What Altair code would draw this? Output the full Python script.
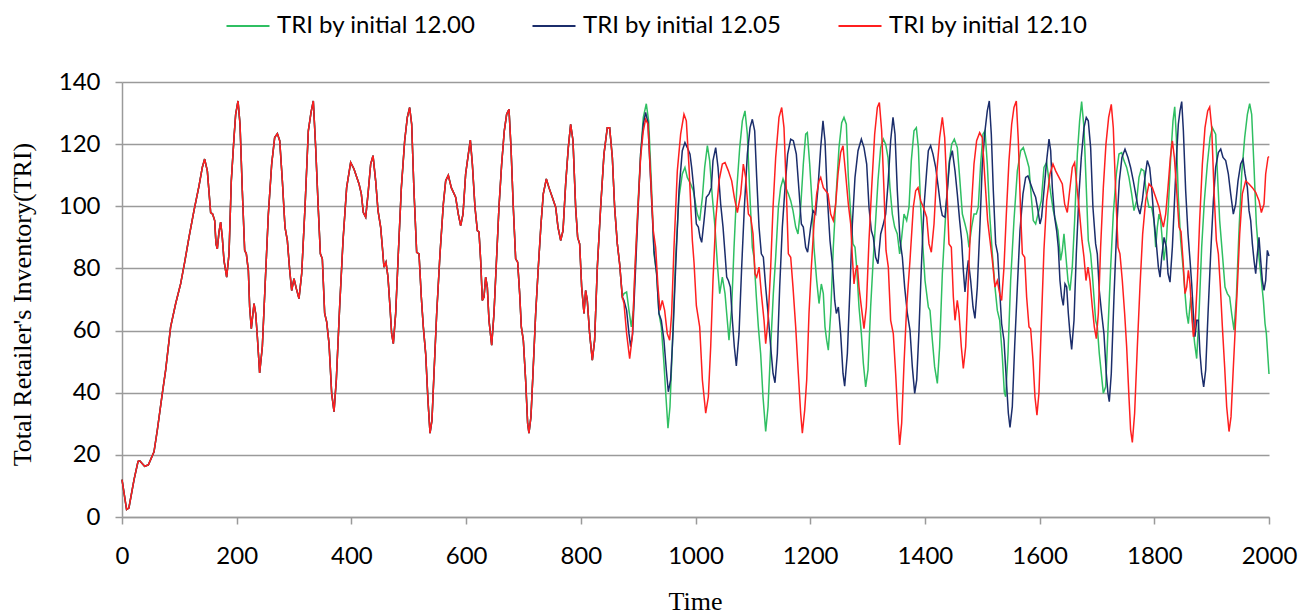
import altair as alt
import pandas as pd

# ---- data (time, TRI) ----
shared_points = [
    (0, 12), (8, 2.4), (12, 2.9), (21, 12), (28, 17.9), (31, 18.1), (39.5, 16.3), (46, 16.8),
    (55.8, 21), (61.6, 28), (70.3, 39.8), (76.1, 47.3), (84.8, 61.2), (93.6, 68.7), (102.3, 75.1),
    (109.3, 82), (116.8, 90), (125.5, 98.6), (134.3, 106.6), (140, 112.5), (144.1, 115.2),
    (148.8, 111.4), (154.6, 98), (158, 97.5), (161.6, 95.4), (163.9, 87.9), (166.2, 86.3),
    (169.1, 91.7), (172, 94.9), (174.9, 90), (177.8, 82.6), (182.5, 77.2), (186.6, 84.7),
    (190.6, 108.2), (195.3, 122.1), (198.2, 129.6), (202.3, 133.9), (205.8, 126.4), (209.8, 105),
    (213.9, 85.8), (216.8, 84.7), (220.3, 79.4), (222.6, 67.6), (225.5, 60.6), (230.2, 68.7),
    (233.1, 65.5), (236, 58), (240, 46.4), (244.7, 54.8), (249.4, 74), (255.2, 97.5), (261, 113.6),
    (266.2, 122.1), (270.9, 123.4), (275, 121.1), (279.6, 108.2), (284.2, 93.3), (288.3, 89),
    (292.4, 79.4), (295.9, 72.9), (299.9, 76.7), (304, 73.5), (308.6, 70.3), (313.3, 78.3),
    (319.1, 99.7), (324.9, 124.3), (329.6, 130.2), (333.6, 133.9), (337.7, 118.9), (342.4, 98.6),
    (345.9, 84.7), (349.3, 83.1), (353.4, 65.5), (356.9, 62.8), (361, 55.8), (365.6, 39.8),
    (369.7, 33.9), (373.7, 44.1), (379.5, 67.6), (385.4, 89), (391.7, 106), (398.7, 114.1),
    (404.5, 112), (413.3, 107.2), (417.3, 104), (420.8, 98), (424.9, 96.5), (429, 104),
    (433.6, 113.6), (437.7, 116.3), (442.3, 108.2), (446.4, 98.6), (451, 93.3), (454, 86.8),
    (456.8, 80.4), (460.3, 82), (463.8, 77.2), (467.3, 67.6), (470.2, 59), (473.1, 55.8),
    (477.2, 65.5), (481.8, 84.7), (487.1, 106), (492.9, 121.1), (497.5, 128.6), (501.6, 131.8),
    (505.1, 126.4), (509.1, 105), (513.8, 85.2), (517.9, 84.7), (521.9, 70.8), (525.4, 61.2),
    (529.5, 52.6), (533.5, 37.6), (537.1, 27), (540.5, 31.2), (544, 46.2), (548.7, 65.5),
    (554.5, 84.7), (560.3, 100.7), (564.4, 108.2), (569, 110), (574.2, 106), (581.8, 102.9),
    (586.4, 97.5), (590.5, 93.8), (594.6, 97.5), (599.2, 110.4), (603.9, 116.8), (607.4, 121.3),
    (610.9, 113.6), (615.5, 99.7), (619.6, 92.2), (622.5, 91.7), (625.4, 82.6), (628.3, 69.7),
    (631.2, 70.8), (634.1, 77.2), (637, 74), (639.9, 63.3), (644.6, 55.3), (648.6, 65.5),
    (652.7, 81.5), (657.3, 99.7), (662, 113.6), (666.6, 124.3), (670.7, 129.6), (674.8, 131.2),
    (678.3, 118.9), (682.3, 99.7), (686.4, 83.1), (689.9, 82), (693.4, 71.9), (696.3, 61.2),
    (699.8, 56.9), (703.8, 44.1), (707.3, 30.2), (709.6, 27), (713.1, 32.3), (716.6, 46.2),
    (721.3, 65.5), (725.9, 80.4), (730.6, 94.3), (734.6, 104), (739.9, 108.8), (744.5, 106),
    (750.3, 102.9), (756.2, 99.7), (760.2, 93.3), (764.9, 89), (769, 92.2), (773.6, 107.2),
    (778.2, 118.9), (782.3, 126.4), (786.4, 121.1), (791, 99.7), (794.5, 90), (798, 87.9),
    (801.5, 74), (805.6, 65.5), (808.4, 72.9), (811.3, 69.7), (815.4, 59), (820.1, 50.5),
    (824.1, 56.9), (828.8, 80.4), (834.6, 99.7), (840.4, 116.8), (846.2, 125.3), (850.3, 125.3),
    (855, 115.7), (859, 99.7), (863.7, 87.9), (867.7, 81.5),
]

green_points = [
    (872.4, 70.8), (875.3, 71.9), (879.9, 72.4), (884, 66.5), (888.1, 61.2), (891.6, 66.5),
    (895.6, 83.6), (900.3, 102.9), (904.3, 116.8), (909, 128.6), (914.2, 133), (918.3, 127.5),
    (922.9, 108.2), (927.6, 84.7), (932.2, 78.3), (936.3, 65.5), (940.4, 61.2), (945, 49.4),
    (948.5, 38.7), (952, 28.6), (955.5, 35.5), (959.6, 54.8), (965.4, 83.6), (971.2, 102.9),
    (977, 110.4), (981.6, 112.5), (985.7, 109.3), (991.5, 107.2), (996.2, 105), (1000.2, 100.7),
    (1003.2, 97.5), (1007.3, 95.4), (1012, 102.9), (1016, 112.5), (1020.7, 119.5), (1024.7, 114.7),
    (1029.4, 102.9), (1034, 93.3), (1038.1, 81.5), (1042.2, 71.9), (1046.8, 77.2), (1051.5, 71.9),
    (1054.4, 65.5), (1058.4, 56.9), (1063.1, 67.6), (1067.2, 86.8), (1071.8, 105), (1077.1, 118.9),
    (1081.7, 127.5), (1086.3, 130.7), (1090.4, 123.2), (1094.5, 105), (1099.1, 86.8), (1102, 83.6),
    (1106.1, 70.8), (1109.6, 61.2), (1113.6, 52.6), (1117.7, 38.7), (1122.4, 27.5), (1126.5, 35.5),
    (1131.1, 54.8), (1135.7, 71.9), (1139.8, 83.6), (1144.5, 99.7), (1148.5, 106), (1152.6, 108.8),
    (1157.3, 106), (1161.9, 104), (1166, 101.8), (1170, 98.6), (1174.7, 93.3), (1178.7, 91.1),
    (1183.4, 99.7), (1188, 113.6), (1192.1, 123.2), (1195, 123.7), (1199.1, 113.6), (1203.7, 99.7),
    (1206.6, 86.8), (1211.3, 76.1), (1215.4, 68.7), (1219.4, 75), (1222.9, 71.9), (1225.8, 61.2),
    (1228.7, 56.9), (1231.6, 53.7), (1235.7, 65.5), (1240.3, 86.8), (1245.6, 105), (1250.2, 118.9),
    (1254.9, 126.9), (1258.9, 128.6), (1263, 126.4), (1266.5, 109.3), (1270.6, 97.5), (1274.6, 87.9),
    (1278.1, 86.8), (1281, 80.4), (1285.1, 67.6), (1289.2, 59), (1292.7, 49.4), (1296.7, 41.9),
    (1300.8, 47.3), (1305.4, 67.6), (1310.1, 83.6), (1314.1, 95.4), (1318.2, 108.2), (1322.9, 118.9),
    (1327.5, 121.6), (1331.6, 120), (1335.7, 115.7), (1339.1, 106), (1343.2, 97.5), (1347.3, 93.3),
    (1351.9, 91.1), (1356, 84.7), (1359.5, 90), (1363.6, 97.5), (1368.2, 95.4), (1372.3, 99.7),
    (1376.3, 114.7), (1381, 124.3), (1385.1, 125.3), (1388.6, 118.9), (1392.6, 99.7), (1395.5, 90),
    (1400.2, 76.1), (1406, 67.6), (1408.9, 66.5), (1413, 56.9), (1417, 48.3), (1421.7, 43),
    (1425.7, 54.8), (1430.4, 78.3), (1436.2, 97.5), (1442, 113.6), (1446.7, 120), (1451.3, 121.6),
    (1456.5, 118.9), (1460.6, 109.3), (1465.3, 97.5), (1469.9, 94.3), (1474, 91.1), (1476.9, 86.8),
    (1481.5, 93.3), (1485.6, 97.5), (1489.7, 97.5), (1493.1, 99.7), (1497.2, 113.6), (1501.3, 123.2),
    (1504.8, 124.3), (1508.8, 113.6), (1512.9, 97.5), (1517.6, 84.7), (1522.2, 74), (1526.3, 66.5),
    (1530.4, 63.3), (1535, 51.6), (1538.5, 40.1), (1540.8, 38.7), (1544.9, 52.6), (1549.5, 76.1),
    (1555.3, 95.4), (1561.2, 111.4), (1567, 117.9), (1571.6, 118.9), (1576.8, 115.7), (1581.5, 112.5),
    (1585.6, 102.9), (1589, 95.4), (1593.1, 94.3), (1597.2, 97.5), (1603, 101.8), (1607.6, 112.5),
    (1612.3, 114.1), (1616.4, 108.2), (1620.4, 102.9), (1623.9, 98.6), (1628, 95.4), (1632, 92.2),
    (1636.7, 82.6), (1639.6, 85.8), (1642.5, 91.1), (1646, 83.6), (1649.5, 76.1), (1653, 72.9),
    (1657, 80.4), (1661.1, 95.4), (1665.8, 116.8), (1669.8, 127.5), (1673.3, 133.7), (1677.4, 125.3),
    (1681.4, 106), (1684.9, 89), (1689, 84.7), (1691.9, 78.3), (1694.8, 70.8), (1697.7, 63.3),
    (1700.6, 61.2), (1704.1, 52.6), (1707.6, 46.2), (1711.1, 39.8), (1715.2, 41.9), (1719.2, 60.1),
    (1723.9, 80.4), (1728.5, 97.5), (1733.8, 110.4), (1738.4, 116.8), (1743.1, 117.3), (1747.1, 114.7),
    (1751.8, 112.5), (1755.8, 109.3), (1760.5, 104), (1764.6, 98.6), (1769.2, 101.8), (1773.3, 109.3),
    (1777.3, 112), (1782, 111.4), (1786.1, 104), (1790.7, 99.7), (1795.4, 99.7), (1799.5, 95.4),
    (1802.4, 86.8), (1805.3, 93.3), (1808.2, 97.5), (1811.1, 95.4), (1814, 89), (1816.9, 82.6),
    (1821, 89), (1824.5, 99.7), (1828.6, 115.7), (1832.6, 127.5), (1835.6, 132), (1838.5, 122.1),
    (1841.9, 102.9), (1846, 89), (1850.1, 80.4), (1853.6, 71.9), (1856.5, 65.5), (1859.4, 62.2),
    (1863.5, 70.8), (1866.4, 63.3), (1870.4, 55.8), (1873.9, 51), (1878, 65.5), (1882.6, 86.8),
    (1887.3, 101.8), (1892.5, 113.6), (1897.2, 122.1), (1901.2, 125.3), (1907, 123.2), (1909.9, 111.4),
    (1914, 95.4), (1918.7, 84.7), (1923.3, 74), (1927.4, 71.9), (1931.4, 70.8), (1934.9, 65.5),
    (1939, 60.1), (1943.1, 70.8), (1947.7, 92.2), (1952.4, 110.4), (1957.6, 122.1), (1962.3, 129.6),
    (1966.3, 133), (1969.8, 129.6), (1973.9, 112.5), (1977.9, 94.3), (1982.6, 83.6), (1986.7, 76.1),
    (1990.2, 69.7), (1993.1, 62.2), (1995.4, 59), (2000, 46),
]

blue_points = [
    (872.4, 70.8), (875.3, 69.7), (879.9, 66.5), (884, 59), (886.9, 54.8), (890.4, 59),
    (895.6, 80.4), (900.3, 100.7), (904.3, 116.8), (909, 126.4), (913, 130.2), (917.1, 126.9),
    (921.8, 108.2), (927.6, 85.8), (932.2, 78.3), (936.3, 65.5), (940.4, 63.3), (945, 56.9),
    (949.1, 47.3), (952.6, 40.3), (956.6, 44.1), (960.7, 59), (965.4, 80.4), (971.2, 105),
    (977, 117.9), (981.6, 120.5), (985.7, 118.9), (990.4, 116.8), (993.3, 112.5), (997.4, 105),
    (1001.5, 94.3), (1005, 93.3), (1007.9, 90), (1010.8, 88.4), (1014.9, 95.4), (1018.9, 102.9),
    (1023.6, 104), (1027.6, 106), (1030.5, 114.7), (1035.2, 118.9), (1039.3, 112.5), (1043.9, 100.7),
    (1048, 93.3), (1051.5, 84.7), (1054.4, 77.2), (1057.3, 76.1), (1060.8, 74), (1064.3, 63.3),
    (1067.7, 54.8), (1071.2, 48.6), (1075.9, 59), (1080.5, 80.4), (1085.2, 99.7), (1090.4, 116.8),
    (1095.1, 125.3), (1099.1, 128), (1103.2, 124.3), (1106.7, 109.3), (1110.8, 93.3), (1114.8, 84.7),
    (1118.3, 83.6), (1122.4, 74), (1126.5, 65.5), (1131.1, 54.8), (1135.2, 46.2), (1138.6, 43.2),
    (1142.7, 52.6), (1146.8, 74), (1151.4, 93.3), (1156.1, 106), (1160.7, 116.8), (1166, 121.6),
    (1170.6, 121.1), (1175.8, 116.8), (1180.5, 105), (1184.6, 94.3), (1188, 93.3), (1192.1, 86.8),
    (1195.5, 85.2), (1200.8, 93.3), (1204.9, 98.6), (1209.5, 97.5), (1213.6, 106), (1218.3, 118.9),
    (1222.3, 127.5), (1225.8, 121.1), (1229.9, 102.9), (1234.5, 89), (1238.6, 81.5), (1242.7, 69.7),
    (1245.6, 65.5), (1249.1, 67.6), (1253.1, 59), (1257.2, 46.2), (1260.1, 42.1), (1264.8, 52.6),
    (1269.4, 74), (1273.5, 94.3), (1278.1, 109.3), (1283.4, 117.9), (1289.2, 121.6), (1293.8, 118.9),
    (1298.5, 113.6), (1302.5, 99.7), (1306.6, 92.2), (1310.1, 90), (1314.1, 83.6), (1318.2, 81.5),
    (1322.9, 91.1), (1326.9, 93.8), (1331.6, 97.5), (1335.7, 107.2), (1340.3, 121.1), (1344.4, 128.6),
    (1347.9, 123.2), (1351.9, 105), (1356.6, 89), (1360.7, 83.6), (1364.7, 74), (1369.4, 65.5),
    (1374, 60.1), (1378.1, 48.3), (1382.2, 39.8), (1385.7, 44.1), (1389.7, 60.1), (1393.8, 80.4),
    (1398.4, 99.7), (1403.1, 111.4), (1406, 117.9), (1410, 119.5), (1414.1, 116.8), (1418.8, 112.5),
    (1423.4, 106), (1427.5, 99.7), (1430.4, 97), (1435, 96.5), (1439.1, 105), (1443.2, 114.7),
    (1447.8, 117.9), (1452.5, 111.4), (1456.5, 104), (1460.6, 95.4), (1464.1, 89), (1467, 79.4),
    (1469.9, 72.4), (1472.8, 78.3), (1475.7, 82.6), (1479.8, 76.1), (1483.9, 67.6), (1487.3, 63.9),
    (1491.4, 74), (1496.1, 94.3), (1500.1, 113.6), (1504.8, 124.3), (1508.8, 130.7), (1512.3, 133.9),
    (1515.8, 123.2), (1519.3, 105), (1523.4, 87.9), (1526.9, 84.7), (1530.4, 72.9), (1533.8, 62.2),
    (1537.9, 56.9), (1542, 44.1), (1545.5, 33.4), (1548.4, 28.8), (1552.4, 35.5), (1556.5, 54.8),
    (1561.2, 74), (1565.8, 92.2), (1571, 104), (1575.7, 109.3), (1579.7, 109.8), (1584.4, 107.2),
    (1588.5, 105), (1593.1, 102.9), (1597.2, 98.6), (1600.7, 94.3), (1603.5, 96.5), (1607.6, 105),
    (1612.3, 114.7), (1616.4, 121.6), (1619.3, 117.9), (1622.2, 106), (1626.2, 96.5), (1629.7, 92.2),
    (1632.6, 86.8), (1635.5, 76.1), (1638.4, 70.8), (1641.3, 68.1), (1644.3, 75), (1647.2, 74),
    (1650.1, 65.5), (1653, 59), (1655.9, 53.9), (1660, 63.3), (1664, 84.7), (1668.7, 104),
    (1672.7, 115.7), (1677.4, 125.3), (1681.4, 128.6), (1684.9, 127.5), (1689, 118.9), (1693, 99.7),
    (1697.7, 87.9), (1700.6, 84.7), (1704.1, 72.9), (1708.2, 65.5), (1712.2, 59), (1716.3, 46.2),
    (1719.2, 39.8), (1721.5, 37.1), (1725, 46.2), (1729.7, 70.8), (1734.3, 92.2), (1739, 108.2),
    (1743.6, 115.7), (1748.9, 118.4), (1754.1, 115.7), (1758.7, 112.5), (1763.4, 108.2), (1767.5, 104),
    (1771.5, 99.7), (1775, 97.5), (1779.1, 101.8), (1783.7, 109.3), (1787.8, 114.7), (1791.9, 112.5),
    (1795.4, 106), (1799.5, 95.4), (1803.6, 87.9), (1807.1, 80.4), (1810, 77.2), (1812.9, 83.6),
    (1817, 90), (1821, 86.8), (1823.9, 78.3), (1827.4, 75.6), (1831.5, 86.8), (1835.5, 102.9),
    (1839, 116.8), (1841.9, 126.4), (1844.8, 130.7), (1847.8, 133.7), (1850.7, 124.3), (1854.7, 105),
    (1858.8, 91.1), (1862.3, 82.6), (1865.2, 75), (1868.1, 65.5), (1871, 58), (1873.9, 63.3),
    (1876.8, 63.3), (1879.7, 52.6), (1882.6, 46.2), (1886.1, 41.9), (1889.6, 47.3), (1893.7, 65.5),
    (1898.3, 84.7), (1903, 101.8), (1907, 112.5), (1911.7, 117.3), (1915.8, 118.4), (1919.8, 115.7),
    (1924.5, 114.7), (1929.1, 110.4), (1933.2, 104), (1937.8, 97.5), (1941.9, 100.7), (1946, 108.2),
    (1950.6, 113.6), (1954.7, 115.2), (1958.2, 110.4), (1962.3, 106), (1965.2, 98.6), (1968.1, 95.4),
    (1971, 87.9), (1973.9, 82.6), (1976.8, 78.3), (1979.7, 84.7), (1982.6, 90), (1985.5, 82.6),
    (1988.4, 76.1), (1991.3, 72.9), (1994.2, 76.1), (1997.1, 85.8), (2000, 84),
]

red_points = [
    (872.4, 70.8), (875.3, 68.7), (879.9, 59), (885.2, 51), (889.8, 58), (894.5, 80.4),
    (899.7, 99.7), (904.3, 115.7), (909, 124.3), (913, 128), (917.1, 126.4), (921.8, 109.3),
    (926.4, 92.2), (930.5, 86.8), (934.6, 74), (938.1, 66.5), (942.1, 69.7), (946.2, 66.5),
    (950.8, 59), (954.9, 56.9), (958.4, 65.5), (962.5, 86.8), (968.3, 111.4), (974.1, 123.2),
    (979.9, 129.6), (984, 127.5), (988.6, 113), (994.5, 89), (997.4, 82), (1001.5, 68),
    (1007.3, 61.2), (1012, 44.1), (1017.8, 33.4), (1022.4, 38.7), (1026.5, 54.8), (1030.5, 76.1),
    (1035.2, 95.4), (1041, 108.2), (1046.8, 113.6), (1051.5, 114.1), (1057.3, 111.4), (1063.1, 108.2),
    (1067.7, 102.9), (1073, 98), (1078.8, 104), (1083.4, 113.6), (1087.5, 109.3), (1092.2, 97.5),
    (1096.2, 96.5), (1100.3, 91.1), (1103.8, 78.3), (1106.7, 77.2), (1110.8, 80.4), (1114.8, 71.9),
    (1119.5, 63.3), (1122.4, 55.8), (1126.5, 63.3), (1131.1, 80.4), (1135.2, 99.7), (1139.8, 115.7),
    (1145.6, 128.6), (1150.3, 131.8), (1154.3, 125.3), (1158.4, 105), (1161.9, 84.7), (1166, 83.6),
    (1170, 74), (1174.7, 61.2), (1179.3, 46.2), (1183.4, 33.4), (1186.3, 27), (1190.4, 34.4),
    (1193.9, 44.1), (1197.9, 65.5), (1202, 80.4), (1206.6, 94.3), (1211.3, 104), (1215.4, 108.2),
    (1218.3, 109.3), (1222.9, 106), (1227, 105), (1231, 104), (1235.7, 97.5), (1240.3, 95.4),
    (1244.4, 100.7), (1248.5, 110.4), (1253.1, 117.3), (1257.2, 119.5), (1261.8, 110.4), (1266.5, 100.7),
    (1270.6, 94.3), (1273.5, 83.6), (1276.4, 75), (1279.3, 79.4), (1282.2, 81), (1285.1, 74),
    (1289.2, 67.6), (1293.8, 60.6), (1297.9, 67.6), (1302.5, 89), (1307.2, 106), (1312.4, 123.2),
    (1317.1, 131.8), (1320.6, 133.4), (1324.6, 124.3), (1328.7, 105), (1332.2, 85.8), (1336.2, 80.4),
    (1340.3, 63.3), (1344.9, 59), (1349, 46.2), (1353.1, 31.2), (1356, 23.2), (1359.5, 30.2),
    (1363.6, 49.4), (1368.2, 67.6), (1374, 82.6), (1379.8, 99.7), (1383.9, 105), (1388, 106),
    (1392.6, 101.8), (1397.3, 99.7), (1403.1, 96.5), (1407.1, 87.9), (1411.2, 85.2), (1415.9, 94.3),
    (1420.5, 110.4), (1425.7, 122.1), (1430.4, 128.6), (1434.5, 122.1), (1438.5, 105), (1442, 87.9),
    (1446.1, 86.8), (1449.6, 70.8), (1452.5, 63.3), (1456.5, 69.7), (1459.5, 65.5), (1463.5, 54.8),
    (1467, 47.8), (1471.1, 54.8), (1475.7, 76.1), (1480.4, 97.5), (1485.6, 113.6), (1490.2, 121.1),
    (1495.5, 123.7), (1500.1, 122.1), (1504.8, 108.2), (1509.4, 95.4), (1513.5, 89), (1517.6, 82.6),
    (1522.2, 74), (1526.3, 76.1), (1530.4, 71.9), (1533.8, 69.7), (1537.9, 80.4), (1542, 97.5),
    (1546.6, 114.7), (1551.3, 126.4), (1555.3, 131.8), (1559.4, 133.9), (1562.9, 121.1), (1567, 97.5),
    (1569.9, 84.7), (1574, 83.6), (1577.4, 70.8), (1581.5, 61.2), (1584.4, 60.6), (1588.5, 50.5),
    (1591.9, 38.7), (1595.4, 32.8), (1598.9, 40), (1603, 62), (1607.6, 86), (1612.3, 101.8),
    (1618.1, 110.4), (1623.3, 113.6), (1628, 111.4), (1633.8, 109.3), (1639.6, 107.2), (1643.7, 100.7),
    (1648.3, 98), (1652.4, 105), (1657, 112.5), (1661.1, 114.1), (1665.8, 105), (1669.8, 97.5),
    (1673.9, 89), (1677.4, 83.6), (1680.9, 76.1), (1684.4, 80.4), (1687.8, 76.1), (1691.9, 67.6),
    (1695.4, 61.2), (1698.9, 57.4), (1702.4, 65.5), (1706.4, 86.8), (1711.1, 106), (1715.7, 120),
    (1720.4, 128.6), (1725, 132.8), (1728.5, 125.3), (1732.6, 105), (1736.7, 86.8), (1740.1, 84.7),
    (1744.2, 76.1), (1748.3, 65.5), (1751.8, 54.8), (1755.8, 38.7), (1758.7, 28), (1761.7, 24),
    (1765.7, 33.4), (1770.4, 54.8), (1775, 74), (1779.7, 91.1), (1784.9, 101.8), (1790.7, 107.2),
    (1796.6, 106), (1802.4, 102.9), (1808.2, 99.7), (1812.9, 95.4), (1815.8, 93.3), (1819.9, 97.5),
    (1823.9, 106), (1828, 115.7), (1831.5, 121.1), (1835, 115.7), (1839, 105), (1843.1, 93.3),
    (1846.6, 91.8), (1850.1, 82.6), (1853.6, 71.9), (1856.5, 74), (1859.4, 79.4), (1862.3, 75),
    (1865.2, 65.5), (1868.1, 58), (1871, 61.2), (1875.1, 76.1), (1879.1, 95.4), (1883.8, 113.6),
    (1888.4, 125.3), (1893.1, 130.7), (1896.6, 132), (1900.1, 125.3), (1904.1, 105), (1908.2, 89),
    (1911.7, 84.7), (1915.2, 74), (1918.7, 61.2), (1922.7, 48.3), (1926.2, 35.5), (1930.3, 27.5),
    (1933.8, 32.3), (1937.3, 46.2), (1940.7, 59), (1944.8, 74), (1948.9, 91.1), (1953.5, 104),
    (1959.3, 108.2), (1965.2, 107.2), (1971, 106), (1976.8, 104.5), (1982.6, 101.8), (1986.7, 98),
    (1991.3, 100.7), (1994.2, 110.4), (1998.3, 115.7), (2000, 116),
]

series_names = ["TRI by initial 12.00", "TRI by initial 12.05", "TRI by initial 12.10"]
series_colors = ["#2fbf62", "#1b2d6b", "#ff1f1f"]
x_ticks = [0, 200, 400, 600, 800, 1000, 1200, 1400, 1600, 1800, 2000]
y_ticks = [0, 20, 40, 60, 80, 100, 120, 140]

rows = []
for name, own in zip(series_names, [green_points, blue_points, red_points]):
    for t, v in shared_points + own:
        rows.append({"Time": t, "TRI": v, "series": name})
df = pd.DataFrame(rows)

SANS = "Lato"
SERIF = "Liberation Serif"

chart = alt.Chart(df).mark_line(strokeWidth=1.5).encode(
    x=alt.X("Time:Q",
            scale=alt.Scale(domain=[0, 2000], nice=False, zero=False),
            axis=alt.Axis(values=x_ticks, grid=False, title="Time", format="d",
                          titleFont=SERIF, titleFontSize=26, titleFontWeight="normal",
                          titleColor="black", titleX=573, titleY=84,
                          titleBaseline="middle", titleAlign="center",
                          labelFont=SANS, labelFontSize=24, labelColor="black",
                          labelPadding=20, tickSize=7, labelFlush=False)),
    y=alt.Y("TRI:Q",
            scale=alt.Scale(domain=[0, 140], nice=False),
            axis=alt.Axis(values=y_ticks, grid=True,
                          title="Total Retailer's Inventory(TRI)",
                          titleFont=SERIF, titleFontSize=26, titleFontWeight="normal",
                          titleColor="black", titleAngle=-90, titleX=-100, titleY=222,
                          titleAlign="center", titleBaseline="middle",
                          labelFont=SANS, labelFontSize=24, labelColor="black",
                          labelPadding=15, tickSize=7)),
    color=alt.Color("series:N",
                    scale=alt.Scale(domain=series_names, range=series_colors),
                    legend=alt.Legend(title=None, orient="none", direction="horizontal",
                                      legendX=103, legendY=-79, symbolType="stroke",
                                      symbolSize=1850, symbolStrokeWidth=2,
                                      labelFont=SANS, labelFontSize=24, labelColor="black",
                                      labelOffset=6, columnPadding=52, padding=0,
                                      labelLimit=400)),
).properties(
    width=1147, height=435,
    autosize=alt.AutoSizeParams(type="none"),
    padding={"left": 114, "top": 74, "right": 34, "bottom": 98},
).configure_view(
    stroke=None
).configure_axis(
    gridColor="#9a9a9a", gridWidth=1.5, gridOpacity=1,
    domainColor="#9a9a9a", domainWidth=1.5,
    tickColor="#9a9a9a", tickWidth=1.5,
)

chart.save("out.html", embed_options={"renderer": "svg", "actions": False})
